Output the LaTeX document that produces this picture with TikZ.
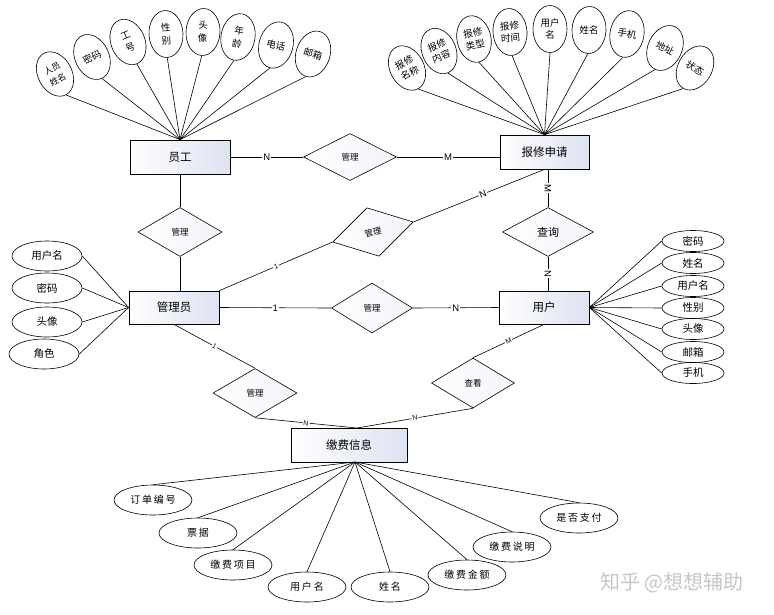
\documentclass[tikz,border=0pt]{standalone}
\usepackage{fontspec}
\setmainfont{Liberation Sans}
\newfontfamily\cjk{Noto Sans CJK SC}
\newfontfamily\cjkwide[LetterSpace=18]{Noto Sans CJK SC}
\usepackage{tikz}
\usetikzlibrary{shapes,positioning,calc}
\definecolor{entfill}{RGB}{222,226,242}

\begin{document}
\begin{tikzpicture}[x=1pt,y=-1pt,line width=0.6pt,
    ent/.style={draw,rectangle,line width=0.8pt,left color=white,right color=entfill,minimum width=90,minimum height=34,font=\cjk\fontsize{11.5}{13}\selectfont},
    rel/.style={draw,diamond,inner sep=0pt,left color=white,right color=entfill!40,minimum width=84,minimum height=49,font=\cjk\fontsize{8.5}{10}\selectfont},
    vattr/.style={draw,ellipse,inner sep=0pt,minimum width=34,minimum height=47,align=center,font=\cjk\fontsize{9.5}{13}\selectfont},
    hattr/.style={draw,ellipse,inner sep=0pt,minimum width=70,minimum height=30,font=\cjk\fontsize{10.5}{12}\selectfont},
    uattr/.style={draw,ellipse,inner sep=0pt,minimum width=62,minimum height=21,font=\cjk\fontsize{10.5}{12}\selectfont},
    jattr/.style={draw,ellipse,inner sep=0pt,minimum width=78,minimum height=30,font=\cjkwide\fontsize{10}{12}\selectfont},
    card/.style={fill=white,inner sep=1pt,font=\fontsize{9.5}{10}\selectfont},
    smallcard/.style={card,font=\fontsize{7}{8}\selectfont}]

    \useasboundingbox (0,0) rectangle (774,614);

    \node[ent,minimum width=100] (yuangong) at (180,157) {员工};
    \node[ent,minimum width=89] (baoxiu) at (544.5,152) {报修申请};
    \node[ent,minimum height=33] (guanliyuan) at (174,307.5) {管理员};
    \node[ent,minimum height=33] (yonghu) at (544,307.5) {用户};
    \node[ent,minimum width=116] (jiaofei) at (349,445) {缴费信息};

    \node[rel,minimum width=93,minimum height=47] (glA) at (350,157) {管理};
    \node[rel] (glB) at (180,232) {管理};
    \node[rel,rotate=14,minimum width=83,minimum height=50] (glC) at (373,232) {管理};
    \node[rel,minimum width=81,minimum height=50] (glD) at (372,308) {管理};
    \node[rel,minimum width=91,font=\cjk\fontsize{11}{12}\selectfont] (chaxun) at (548,232) {查询};
    \node[rel] (glE) at (255,393) {管理};
    \node[rel,minimum width=83,minimum height=50] (chakan) at (473,383) {查看};

    \draw (yuangong) -- node[card]{N} (glA);
    \draw (glA.east) -- node[card]{M} (glA.east -| baoxiu.west);
    \draw (yuangong) -- (glB);
    \draw (glB.south) -- (glB.south |- guanliyuan.north);
    \draw (guanliyuan.north east) -- node[smallcard,sloped]{1} (glC.west);
    \draw (glC.east) -- node[card,sloped,pos=0.53]{N} (baoxiu.south);
    \draw (guanliyuan.east) -- node[card]{1} (glD.west);
    \draw (glD.east) -- node[card]{N} (yonghu.west);
    \draw (chaxun.north |- baoxiu.south) -- node[card,sloped]{M} (chaxun.north);
    \draw (chaxun.south) -- node[card,sloped]{N} (chaxun.south |- yonghu.north);
    \draw (guanliyuan.south) -- node[smallcard,sloped]{1} (glE.north);
    \coordinate (jtop) at (357,428);
    \coordinate (jbot) at (355,462);
    \draw (glE.south) -- node[smallcard,sloped]{N} (jtop);
    \draw (yonghu.south) -- node[smallcard,sloped]{M} (chakan.north);
    \draw (chakan.south) -- node[smallcard,sloped]{N} (jtop);

    \node[vattr,rotate=28,font=\cjk\fontsize{8.5}{12}\selectfont] (yg1) at (55,74) {人员\\姓名};
    \node[vattr,rotate=25] (yg2) at (92,57) {密码};
    \node[vattr,rotate=22] (yg3) at (128,42) {工\\号};
    \node[vattr,rotate=3] (yg4) at (166,34) {性\\别};
    \node[vattr,rotate=-3] (yg5) at (203,32) {头\\像};
    \node[vattr,rotate=-10] (yg6) at (238,37) {年\\龄};
    \node[vattr,rotate=-15] (yg7) at (276,45) {电话};
    \node[vattr,rotate=-18] (yg8) at (313,54) {邮箱};
    \draw (yuangong.north) -- (yg1.south);
    \draw (yuangong.north) -- (yg2.south);
    \draw (yuangong.north) -- (yg3.south);
    \draw (yuangong.north) -- (yg4.south);
    \draw (yuangong.north) -- (yg5.south);
    \draw (yuangong.north) -- (yg6.south);
    \draw (yuangong.north) -- (yg7.south);
    \draw (yuangong.north) -- (yg8.south);

    \node[vattr,rotate=28,font=\cjk\fontsize{9.5}{12}\selectfont] (bx1) at (407,68) {报修\\名称};
    \node[vattr,rotate=22,font=\cjk\fontsize{9.5}{12}\selectfont] (bx2) at (439,51) {报修\\内容};
    \node[vattr,rotate=12,font=\cjk\fontsize{9.5}{12}\selectfont] (bx3) at (474,39) {报修\\类型};
    \node[vattr,rotate=5,font=\cjk\fontsize{9.5}{12}\selectfont] (bx4) at (510,32) {报修\\时间};
    \node[vattr,font=\cjk\fontsize{9.5}{12}\selectfont] (bx5) at (550,29) {用户\\名};
    \node[vattr,rotate=-3] (bx6) at (589,30) {姓名};
    \node[vattr,rotate=-10] (bx7) at (627,34) {手机};
    \node[vattr,rotate=-25] (bx8) at (665,48) {地址};
    \node[vattr,rotate=-30] (bx9) at (695,68) {状态};
    \draw (baoxiu.north) -- (bx1.south);
    \draw (baoxiu.north) -- (bx2.south);
    \draw (baoxiu.north) -- (bx3.south);
    \draw (baoxiu.north) -- (bx4.south);
    \draw (baoxiu.north) -- (bx5.south);
    \draw (baoxiu.north) -- (bx6.south);
    \draw (baoxiu.north) -- (bx7.south);
    \draw (baoxiu.north) -- (bx8.south);
    \draw (baoxiu.north) -- (bx9.south);

    \node[hattr] (gy1) at (47,256) {用户名};
    \node[hattr] (gy2) at (47,288) {密码};
    \node[hattr] (gy3) at (47,322) {头像};
    \node[hattr] (gy4) at (44,354) {角色};
    \draw (gy1.east) -- (guanliyuan.west);
    \draw (gy2.east) -- (guanliyuan.west);
    \draw (gy3.east) -- (guanliyuan.west);
    \draw (gy4.east) -- (guanliyuan.west);

    \node[uattr] (yh1) at (693,241) {密码};
    \node[uattr] (yh2) at (693,263) {姓名};
    \node[uattr] (yh3) at (693,286) {用户名};
    \node[uattr] (yh4) at (693,308) {性别};
    \node[uattr] (yh5) at (693,329) {头像};
    \node[uattr] (yh6) at (693,352) {邮箱};
    \node[uattr] (yh7) at (693,373) {手机};
    \draw (yh1.west) -- (yonghu.east);
    \draw (yh2.west) -- (yonghu.east);
    \draw (yh3.west) -- (yonghu.east);
    \draw (yh4.west) -- (yonghu.east);
    \draw (yh5.west) -- (yonghu.east);
    \draw (yh6.west) -- (yonghu.east);
    \draw (yh7.west) -- (yonghu.east);

    \node[jattr] (jf1) at (153,500) {订单编号};
    \node[jattr] (jf2) at (198,533) {票据};
    \node[jattr] (jf3) at (233,565) {缴费项目};
    \node[jattr] (jf4) at (307,587) {用户名};
    \node[jattr] (jf5) at (390,587) {姓名};
    \node[jattr] (jf6) at (467,575) {缴费金额};
    \node[jattr] (jf7) at (512,547) {缴费说明};
    \node[jattr] (jf8) at (579,518) {是否支付};
    \draw (jbot) -- (jf1.north);
    \draw (jbot) -- (jf2.north);
    \draw (jbot) -- (jf3.north);
    \draw (jbot) -- (jf4.north);
    \draw (jbot) -- (jf5.north);
    \draw (jbot) -- (jf6.north);
    \draw (jbot) -- (jf7.north);
    \draw (jbot) -- (jf8.north);

    \node[font=\cjk\fontsize{20}{22}\selectfont,text=gray!45] (mark) at (672,583) {知乎 @想想辅助};
\end{tikzpicture}
\end{document}
